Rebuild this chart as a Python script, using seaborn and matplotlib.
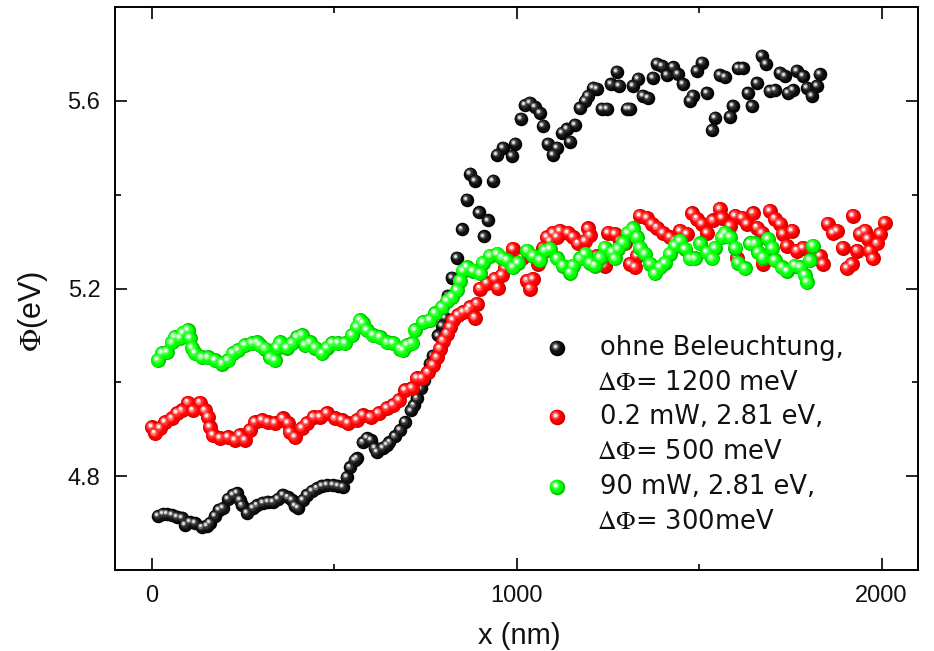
import matplotlib
matplotlib.use("Agg")
import matplotlib.pyplot as plt
from matplotlib.transforms import ScaledTranslation
from matplotlib.ticker import FixedLocator
import pandas as pd
import seaborn as sns

# ---- work function line scans (x in nm, Phi in eV) ----
dark_x = [18, 32, 42, 56, 70, 84, 92, 105, 119, 138, 152, 160, 174, 185, 196, 210, 223, 234, 242, 248,
          262, 278, 289, 305, 319, 333, 347, 360, 374, 385, 393, 401, 415, 426, 440, 453, 467, 481, 497, 511,
          525, 535, 544, 557, 563, 579, 590, 600, 611, 617, 633, 644, 652, 667, 681, 695, 710, 718, 727, 738,
          747, 755, 763, 771, 785, 796, 804, 812, 823, 837, 851, 864, 873, 886, 897, 911, 922, 936, 947, 963,
          988, 996, 1012, 1023, 1037, 1051, 1064, 1073, 1086, 1100, 1111, 1125, 1138, 1147, 1160, 1174, 1188,
          1196, 1210, 1220, 1234, 1248, 1259, 1275, 1281, 1303, 1311, 1319, 1333, 1346, 1360, 1374, 1385, 1399,
          1412, 1429, 1442, 1456, 1475, 1483, 1494, 1508, 1522, 1536, 1544, 1557, 1571, 1585, 1593, 1607, 1620,
          1634, 1645, 1659, 1672, 1683, 1694, 1708, 1722, 1735, 1744, 1757, 1768, 1785, 1796, 1809, 1823, 1831]
dark_phi = [4.715, 4.719, 4.719, 4.717, 4.713, 4.711, 4.696, 4.702, 4.700, 4.691, 4.694, 4.700, 4.715, 4.728,
            4.732, 4.751, 4.760, 4.764, 4.749, 4.738, 4.721, 4.732, 4.738, 4.743, 4.745, 4.745, 4.751, 4.760,
            4.755, 4.749, 4.736, 4.732, 4.749, 4.760, 4.768, 4.774, 4.779, 4.781, 4.781, 4.779, 4.777, 4.798,
            4.819, 4.834, 4.838, 4.872, 4.881, 4.877, 4.860, 4.851, 4.860, 4.866, 4.872, 4.885, 4.898, 4.915,
            4.940, 4.951, 4.966, 4.987, 5.004, 5.021, 5.040, 5.057, 5.100, 5.121, 5.138, 5.185, 5.223, 5.266,
            5.326, 5.389, 5.445, 5.430, 5.362, 5.311, 5.345, 5.430, 5.485, 5.500, 5.483, 5.509, 5.562, 5.591,
            5.596, 5.587, 5.574, 5.547, 5.509, 5.485, 5.500, 5.532, 5.540, 5.513, 5.549, 5.585, 5.600, 5.611,
            5.628, 5.626, 5.583, 5.583, 5.636, 5.662, 5.632, 5.583, 5.583, 5.632, 5.647, 5.611, 5.606, 5.649,
            5.679, 5.674, 5.655, 5.672, 5.657, 5.636, 5.600, 5.611, 5.664, 5.681, 5.617, 5.538, 5.564, 5.655,
            5.651, 5.566, 5.589, 5.670, 5.670, 5.617, 5.589, 5.638, 5.696, 5.679, 5.621, 5.623, 5.660, 5.653,
            5.617, 5.623, 5.664, 5.653, 5.628, 5.611, 5.632, 5.657]

low_x = [1, 10, 23, 37, 56, 70, 84, 100, 114, 133, 147, 155, 160, 168, 188, 210, 229, 242, 256, 270, 283,
         303, 319, 338, 360, 374, 379, 393, 412, 426, 444, 462, 481, 503, 522, 538, 563, 579, 600, 622, 645,
         662, 678, 695, 714, 727, 741, 757, 771, 782, 790, 799, 810, 818, 826, 840, 853, 867, 873, 886, 892,
         900, 919, 941, 949, 960, 968, 990, 1015, 1029, 1037, 1045, 1059, 1073, 1083, 1092, 1100, 1111, 1119,
         1141, 1155, 1168, 1188, 1196, 1201, 1220, 1229, 1242, 1251, 1270, 1284, 1297, 1311, 1325, 1330, 1338,
         1357, 1371, 1385, 1401, 1420, 1434, 1448, 1467, 1481, 1494, 1508, 1522, 1538, 1557, 1563, 1577, 1585,
         1599, 1604, 1618, 1631, 1648, 1659, 1672, 1675, 1694, 1708, 1722, 1730, 1741, 1755, 1768, 1785, 1809,
         1831, 1839, 1853, 1867, 1878, 1894, 1905, 1919, 1922, 1933, 1941, 1955, 1963, 1968, 1976, 1988, 1996,
         2009]
low_phi = [4.904, 4.891, 4.902, 4.915, 4.923, 4.934, 4.940, 4.957, 4.940, 4.957, 4.940, 4.926, 4.904, 4.887,
           4.881, 4.883, 4.877, 4.887, 4.877, 4.898, 4.915, 4.919, 4.915, 4.913, 4.923, 4.913, 4.894, 4.883,
           4.902, 4.913, 4.926, 4.926, 4.934, 4.923, 4.919, 4.913, 4.919, 4.930, 4.926, 4.934, 4.945, 4.951,
           4.962, 4.983, 4.987, 5.009, 5.009, 5.021, 5.036, 5.053, 5.072, 5.089, 5.104, 5.117, 5.132, 5.143,
           5.149, 5.153, 5.160, 5.138, 5.168, 5.200, 5.211, 5.221, 5.202, 5.228, 5.243, 5.285, 5.264, 5.217,
           5.200, 5.221, 5.253, 5.287, 5.309, 5.302, 5.319, 5.309, 5.323, 5.319, 5.309, 5.296, 5.302, 5.328,
           5.313, 5.270, 5.260, 5.249, 5.319, 5.317, 5.302, 5.296, 5.253, 5.245, 5.270, 5.355, 5.351, 5.338,
           5.330, 5.319, 5.309, 5.302, 5.323, 5.317, 5.360, 5.349, 5.338, 5.319, 5.345, 5.370, 5.351, 5.317,
           5.334, 5.355, 5.266, 5.351, 5.338, 5.360, 5.330, 5.319, 5.253, 5.366, 5.349, 5.338, 5.317, 5.291,
           5.323, 5.281, 5.287, 5.281, 5.270, 5.253, 5.338, 5.319, 5.323, 5.287, 5.243, 5.253, 5.355, 5.281,
           5.317, 5.323, 5.306, 5.281, 5.264, 5.296, 5.317, 5.340]

high_x = [18, 29, 42, 56, 64, 78, 86, 100, 105, 111, 119, 138, 155, 174, 193, 210, 223, 237, 256, 275, 289,
          297, 311, 325, 338, 344, 352, 371, 385, 399, 412, 421, 434, 448, 467, 481, 495, 511, 530, 549, 563,
          571, 579, 590, 607, 626, 645, 662, 681, 689, 700, 714, 722, 744, 763, 777, 796, 810, 823, 837, 845,
          853, 864, 881, 900, 908, 927, 947, 960, 973, 990, 1004, 1029, 1045, 1064, 1078, 1092, 1111, 1127,
          1147, 1155, 1174, 1188, 1201, 1215, 1229, 1242, 1261, 1270, 1278, 1292, 1305, 1319, 1330, 1338, 1352,
          1366, 1379, 1393, 1407, 1420, 1434, 1448, 1462, 1475, 1489, 1503, 1522, 1536, 1544, 1563, 1571, 1585,
          1599, 1607, 1626, 1640, 1653, 1662, 1675, 1689, 1700, 1708, 1727, 1741, 1763, 1777, 1790, 1796, 1804,
          1812]
high_phi = [5.047, 5.062, 5.064, 5.085, 5.096, 5.094, 5.106, 5.111, 5.094, 5.074, 5.062, 5.053, 5.053, 5.047,
            5.040, 5.047, 5.062, 5.068, 5.079, 5.083, 5.085, 5.079, 5.072, 5.053, 5.047, 5.074, 5.085, 5.074,
            5.083, 5.096, 5.100, 5.079, 5.085, 5.074, 5.062, 5.074, 5.083, 5.083, 5.083, 5.100, 5.117, 5.132,
            5.126, 5.111, 5.100, 5.096, 5.085, 5.083, 5.072, 5.068, 5.079, 5.083, 5.111, 5.128, 5.132, 5.147,
            5.160, 5.174, 5.181, 5.196, 5.217, 5.238, 5.245, 5.238, 5.232, 5.255, 5.270, 5.274, 5.266, 5.260,
            5.245, 5.255, 5.281, 5.270, 5.260, 5.281, 5.285, 5.264, 5.249, 5.234, 5.249, 5.264, 5.274, 5.255,
            5.249, 5.266, 5.287, 5.277, 5.264, 5.285, 5.298, 5.319, 5.328, 5.309, 5.287, 5.274, 5.253, 5.232,
            5.245, 5.255, 5.274, 5.291, 5.302, 5.285, 5.264, 5.264, 5.296, 5.277, 5.264, 5.287, 5.309, 5.319,
            5.309, 5.287, 5.255, 5.243, 5.296, 5.296, 5.277, 5.266, 5.306, 5.287, 5.260, 5.245, 5.238, 5.249,
            5.245, 5.228, 5.213, 5.260, 5.291]

series_names = ["ohne Beleuchtung", "0.2 mW, 2.81 eV", "90 mW, 2.81 eV"]
legend_first = ["ohne Beleuchtung,", "0.2 mW, 2.81 eV,", "90 mW, 2.81 eV,"]
legend_second = [r"$\Delta\Phi$= 1200 meV", r"$\Delta\Phi$= 500 meV", r"$\Delta\Phi$= 300meV"]
x_major = [0, 1000, 2000]
x_minor = [500, 1500]
y_major = [4.8, 5.2, 5.6]
y_minor = [5.0, 5.4]

sns.set_theme(style="ticks")
plt.rcParams["font.family"] = ["Liberation Sans", "DejaVu Sans"]
plt.rcParams["mathtext.fontset"] = "stix"

scan = pd.concat([
    pd.DataFrame({"x": dark_x, "phi": dark_phi, "series": series_names[0]}),
    pd.DataFrame({"x": low_x, "phi": low_phi, "series": series_names[1]}),
    pd.DataFrame({"x": high_x, "phi": high_phi, "series": series_names[2]}),
], ignore_index=True)

# shaded-sphere look: rim, body, then highlight layers shifted up-left
shades = {
    series_names[0]: ["#000000", "#101010", "#2e2e2e", "#727272", "#e4e4e4"],
    series_names[1]: ["#d40000", "#ff0000", "#ff2a2a", "#ff8080", "#fff0f0"],
    series_names[2]: ["#00c400", "#00ff00", "#30ff30", "#8cff8c", "#f0fff0"],
}
diam_px = {series_names[0]: 13.5, series_names[1]: 15.0, series_names[2]: 15.0}
layers = [(1.00, 0.00), (0.86, 0.04), (0.58, 0.10), (0.40, 0.13), (0.22, 0.14)]

fig = plt.figure(figsize=(9.34, 6.51), dpi=100)
ax = fig.add_axes([0.12313, 0.12442, 0.85974, 0.86482])

for name in series_names:
    part = scan[scan["series"] == name]
    d = diam_px[name]
    for (scale, shift), col in zip(layers, shades[name]):
        off = ScaledTranslation(-shift * d / 100.0, shift * d / 100.0, fig.dpi_scale_trans)
        sns.scatterplot(data=part, x="x", y="phi", color=col, s=(scale * d * 0.72) ** 2,
                        linewidth=0, legend=False, ax=ax, transform=ax.transData + off)

ax.set_xlim(-100, 2100)
ax.set_ylim(4.6, 5.8)
ax.xaxis.set_major_locator(FixedLocator(x_major))
ax.xaxis.set_minor_locator(FixedLocator(x_minor))
ax.yaxis.set_major_locator(FixedLocator(y_major))
ax.yaxis.set_minor_locator(FixedLocator(y_minor))
ax.set_xticklabels([str(v) for v in x_major])
ax.set_yticklabels([f"{v:.1f}" for v in y_major])
ax.tick_params(which="both", direction="in", top=True, right=True, width=1.2, color="black")
ax.tick_params(which="major", length=8.5, pad=10.5, labelsize=17, labelcolor="#111111")
ax.tick_params(which="minor", length=4.3)
for sp in ax.spines.values():
    sp.set_linewidth(1.4)
    sp.set_color("black")

ax.set_xlabel("x (nm)", fontsize=21, color="#111111")
ax.set_ylabel(r"$\Phi$(eV)", fontsize=22, color="#111111")
ax.xaxis.set_label_coords(0.504, -0.092)
ax.yaxis.set_label_coords(-0.081, 0.46)

# legend: shaded marker beside a two-line description
rows_y = [0.3943, 0.2718, 0.1474]
line_gap = 0.0620
marker_d = 15.5
for name, first, second, yy in zip(series_names, legend_first, legend_second, rows_y):
    for (scale, shift), col in zip(layers, shades[name]):
        off = ScaledTranslation(-shift * marker_d / 100.0, shift * marker_d / 100.0, fig.dpi_scale_trans)
        ax.scatter([0.5504], [yy], s=(scale * marker_d * 0.72) ** 2, color=col, linewidth=0,
                   transform=ax.transAxes + off, clip_on=False)
    ax.text(0.604, yy, first, transform=ax.transAxes, fontsize=18.5, family=["DejaVu Sans"],
            va="center", ha="left", color="#111111")
    ax.text(0.600, yy - line_gap, second, transform=ax.transAxes, fontsize=18.5, family=["DejaVu Sans"],
            va="center", ha="left", color="#111111")

fig.savefig("out.png", dpi=100)
